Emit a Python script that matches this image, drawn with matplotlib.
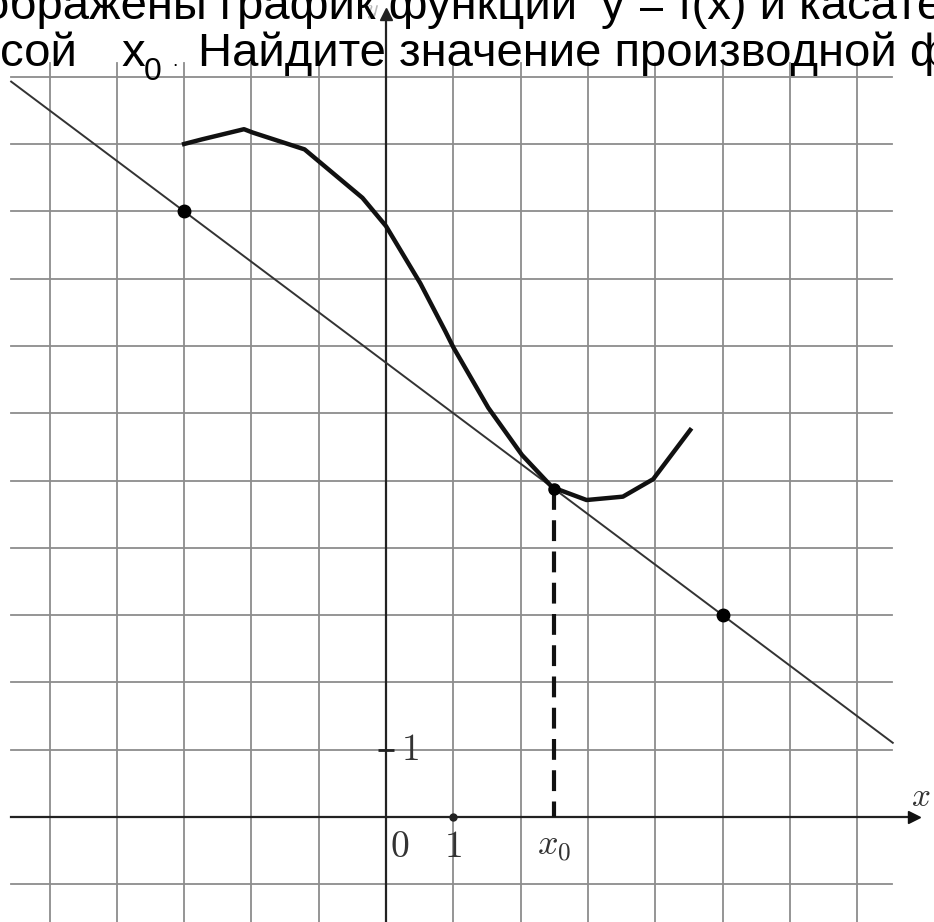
import numpy as np
import matplotlib
matplotlib.use('Agg')
import matplotlib.pyplot as plt

plt.rcParams['mathtext.fontset'] = 'cm'

# graph of y = f(x) (grid units)
curve_x = [-3, -2.73, -2.11, -1.98, -1.21, -0.35, 0.0, 0.51, 0.88, 1.0, 1.52, 2.02, 2.47, 2.98, 3.52, 3.97, 4.52]
curve_y = [10, 10.07, 10.22, 10.17, 9.92, 9.2, 8.78, 7.93, 7.22, 6.98, 6.08, 5.38, 4.9, 4.71, 4.76, 5.02, 5.75]

# tangent line through two marked points
tan_pts_x = [-3, 5]
tan_pts_y = [9, 3]
tan_range = [-5.57, 7.53]
x0 = 2.5

grid_vx = list(range(-5, 8))
grid_hy = list(range(-1, 12))

line1a = "ображены график функции"
line1b = "y = f(x) и касательная к нему"
line2 = "Найдите значение производной функции"

W, H = 934, 922
fig = plt.figure(figsize=(W / 100, H / 100), dpi=100)
ax = fig.add_axes([0, 0, 1, 1])
unit = 67.3
ox, oy = 386, 817
ax.set_xlim(-ox / unit, (W - ox) / unit)
ax.set_ylim(-(H - oy) / unit, oy / unit)
ax.axis('off')

gcol = '#8c8c8c'
for gx in grid_vx:
    if gx == 0:
        continue
    ax.plot([gx, gx], [-1.6, 11.2], color=gcol, lw=1.3, zorder=1)
for gy in grid_hy:
    if gy == 0:
        continue
    ax.plot([tan_range[0], 7.52], [gy, gy], color=gcol, lw=1.3, zorder=1)

# axes with arrows
ax.plot([-5.57, 7.8], [0, 0], color='#222222', lw=1.6, zorder=2)
ax.plot([0, 0], [-1.6, 11.85], color='#222222', lw=1.6, zorder=2)
ax.plot(7.85, 0, marker='>', ms=9, color='#111111', zorder=3)
ax.plot(0, 11.93, marker='^', ms=8, color='#222222', zorder=3)

# tangent
k = (tan_pts_y[1] - tan_pts_y[0]) / (tan_pts_x[1] - tan_pts_x[0])
b = tan_pts_y[0] - k * tan_pts_x[0]
tx = np.array(tan_range)
ax.plot(tx, k * tx + b, color='#333333', lw=1.4, zorder=3)
ax.plot(tan_pts_x, tan_pts_y, 'o', color='black', ms=9, zorder=5)

# function graph
ax.plot(curve_x, curve_y, color='#111111', lw=3.2, zorder=4, solid_joinstyle='round')

# x0 marker
y_at_x0 = k * x0 + b
ax.plot([x0, x0], [y_at_x0, 0], color='#111111', lw=3, ls=(0, (5, 2.5)), zorder=4)
ax.plot(x0, y_at_x0, 'o', color='black', ms=8, zorder=5)

# ticks and labels
ax.plot(1, 0, 'o', color='#222222', ms=5, zorder=5)
ax.plot(0, 1, marker='_', color='#222222', ms=11, mew=2, zorder=5)
lc = '#333333'
ax.text(0.36, 1, r'$1$', fontsize=27, color=lc, ha='center', va='center')
ax.text(0.21, -0.45, r'$0$', fontsize=27, color=lc, ha='center', va='center')
ax.text(1.0, -0.45, r'$1$', fontsize=27, color=lc, ha='center', va='center')
ax.text(2.5, -0.45, r'$x_0$', fontsize=26, color=lc, ha='center', va='center')
ax.text(7.95, 0.3, r'$x$', fontsize=24, color=lc, ha='center', va='center')
ax.text(-0.2, 11.98, r'$y$', fontsize=16, color='#b8b8b8', ha='center', va='center', zorder=0)

# problem text (cropped at the edges)
def fx(px):
    return px / W

def fy(py):
    return 1 - py / H

tf = dict(family=['Liberation Sans', 'DejaVu Sans'], color='black')
fs = 34
fig.text(fx(-17), fy(19), line1a, fontsize=fs, **tf)
fig.text(fx(601), fy(19), line1b, fontsize=fs, **tf)
fig.text(fx(0), fy(66), "сой", fontsize=fs, **tf)
fig.text(fx(121), fy(66), "x", fontsize=fs, **tf)
fig.text(fx(144), fy(80), "0", fontsize=23, **tf)
fig.text(fx(172), fy(66), ".", fontsize=14, **tf)
fig.text(fx(198), fy(66), line2, fontsize=fs, **tf)

fig.savefig('out.png', dpi=100)
